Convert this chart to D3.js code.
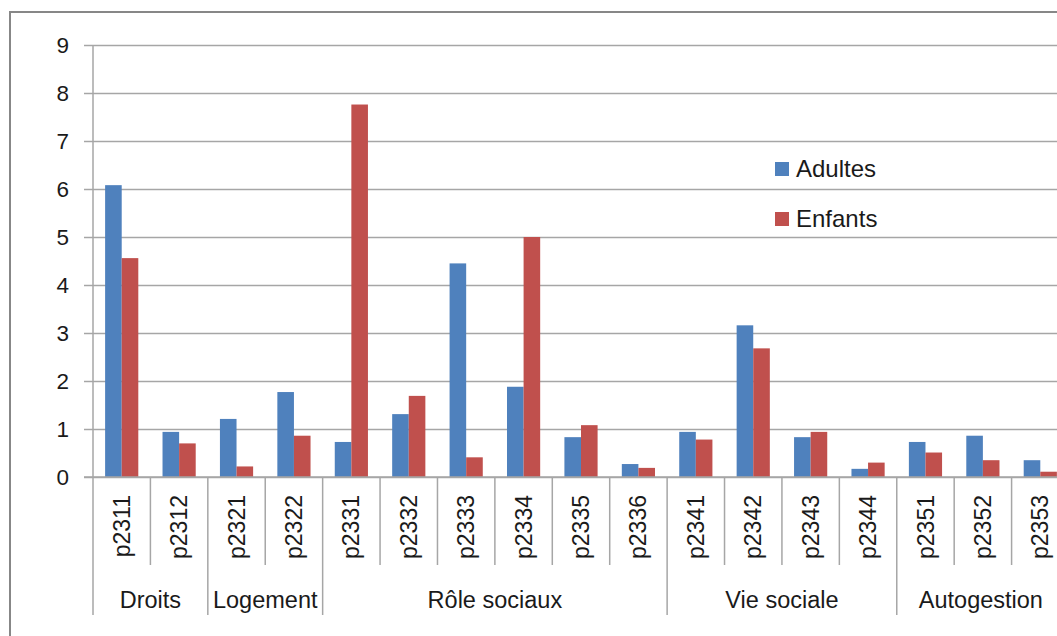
<!DOCTYPE html>
<html><head><meta charset="utf-8">
<script src="https://cdn.jsdelivr.net/npm/d3@7"></script>
<style>body{margin:0;background:#fff}svg{display:block}text{font-family:"Liberation Sans",Arial,sans-serif;fill:#1a1a1a}</style>
</head><body><svg id="c" width="1057" height="636"></svg>
<script>
const categories = ["p2311","p2312","p2321","p2322","p2331","p2332","p2333","p2334","p2335","p2336","p2341","p2342","p2343","p2344","p2351","p2352","p2353"];
const groups = [
  {name:"Droits", start:0, end:2},
  {name:"Logement", start:2, end:4},
  {name:"Rôle sociaux", start:4, end:10},
  {name:"Vie sociale", start:10, end:14},
  {name:"Autogestion", start:14, end:17}
];
const adultes = [6.08,0.94,1.21,1.77,0.73,1.31,4.45,1.88,0.83,0.27,0.94,3.16,0.83,0.17,0.73,0.86,0.35];
const enfants = [4.56,0.70,0.22,0.86,7.76,1.69,0.41,5.00,1.08,0.19,0.78,2.68,0.94,0.30,0.51,0.35,0.11];
const series = [{name:"Adultes", values:adultes, color:"#4F81BD"},{name:"Enfants", values:enfants, color:"#C0504D"}];
const yTicks = [0,1,2,3,4,5,6,7,8,9];

const svg = d3.select("#c");
const x0 = 93, x1 = 1069, yTop = 45, yBot = 477;
const x = d3.scaleBand().domain(categories).range([x0, x1]).paddingInner(0).paddingOuter(0);
const xs = d3.scaleBand().domain(series.map(s=>s.name)).range([0, x.bandwidth()]).paddingInner(0).paddingOuter(0.73);
const y = d3.scaleLinear().domain([0, 9]).range([yBot, yTop]);
const grid = "#a6a6a6";

// frame
svg.append("rect").attr("x",10).attr("y",12).attr("width",1100).attr("height",700)
  .attr("fill","none").attr("stroke","#878787").attr("stroke-width",2);

// gridlines + y axis
const yAxis = d3.axisLeft(y).tickValues(yTicks).tickSize(-(x1 - 84)).tickPadding(14).tickFormat(d3.format("d"));
const ga = svg.append("g").attr("transform",`translate(84,0)`).call(yAxis);
ga.select(".domain").remove();
ga.selectAll(".tick line").attr("stroke",grid).attr("stroke-width",1.5);
ga.selectAll(".tick text").attr("font-size",22.5).attr("fill","#1a1a1a").attr("x",-15);

// left axis line
svg.append("line").attr("x1",x0).attr("x2",x0).attr("y1",yTop).attr("y2",615).attr("stroke",grid).attr("stroke-width",1.5);

// bars
series.forEach(s => {
  svg.append("g").selectAll("rect").data(s.values).join("rect")
    .attr("x",(d,i)=>x(categories[i]) + xs(s.name))
    .attr("width", xs.bandwidth())
    .attr("y", d=>y(d))
    .attr("height", d=>yBot - y(d))
    .attr("fill", s.color);
});

// separators
const groupBounds = new Set(groups.map(g=>g.end));
for (let i = 1; i <= categories.length; i++) {
  const xx = i < categories.length ? x(categories[i]) : x1;
  svg.append("line").attr("x1",xx).attr("x2",xx).attr("y1",yBot)
    .attr("y2", groupBounds.has(i) ? 615 : 565)
    .attr("stroke",grid).attr("stroke-width",1.5);
}

// category labels
svg.append("g").selectAll("text").data(categories).join("text")
  .attr("transform", d=>`translate(${x(d)+x.bandwidth()/2},495) rotate(-90)`)
  .attr("text-anchor","end").attr("dy","0.35em").attr("font-size",23).text(d=>d);

// group labels
svg.append("g").selectAll("text").data(groups).join("text")
  .attr("x", g => (x(categories[g.start]) + (g.end < categories.length ? x(categories[g.end]) : x1)) / 2 + (g.name==="Autogestion" ? -2 : 0))
  .attr("y", 608).attr("text-anchor","middle").attr("font-size",23.5).text(g=>g.name);

// x axis line
svg.append("line").attr("x1",84).attr("x2",x1).attr("y1",yBot).attr("y2",yBot).attr("stroke",grid).attr("stroke-width",1.5);

// legend
const lg = svg.append("g").attr("transform","translate(775,162)");
series.forEach((s,i)=>{
  lg.append("rect").attr("x",0).attr("y",i*50).attr("width",14).attr("height",14).attr("fill",s.color);
  lg.append("text").attr("x",21).attr("y",i*50+15).attr("font-size",24).text(s.name);
});
</script></body></html>
